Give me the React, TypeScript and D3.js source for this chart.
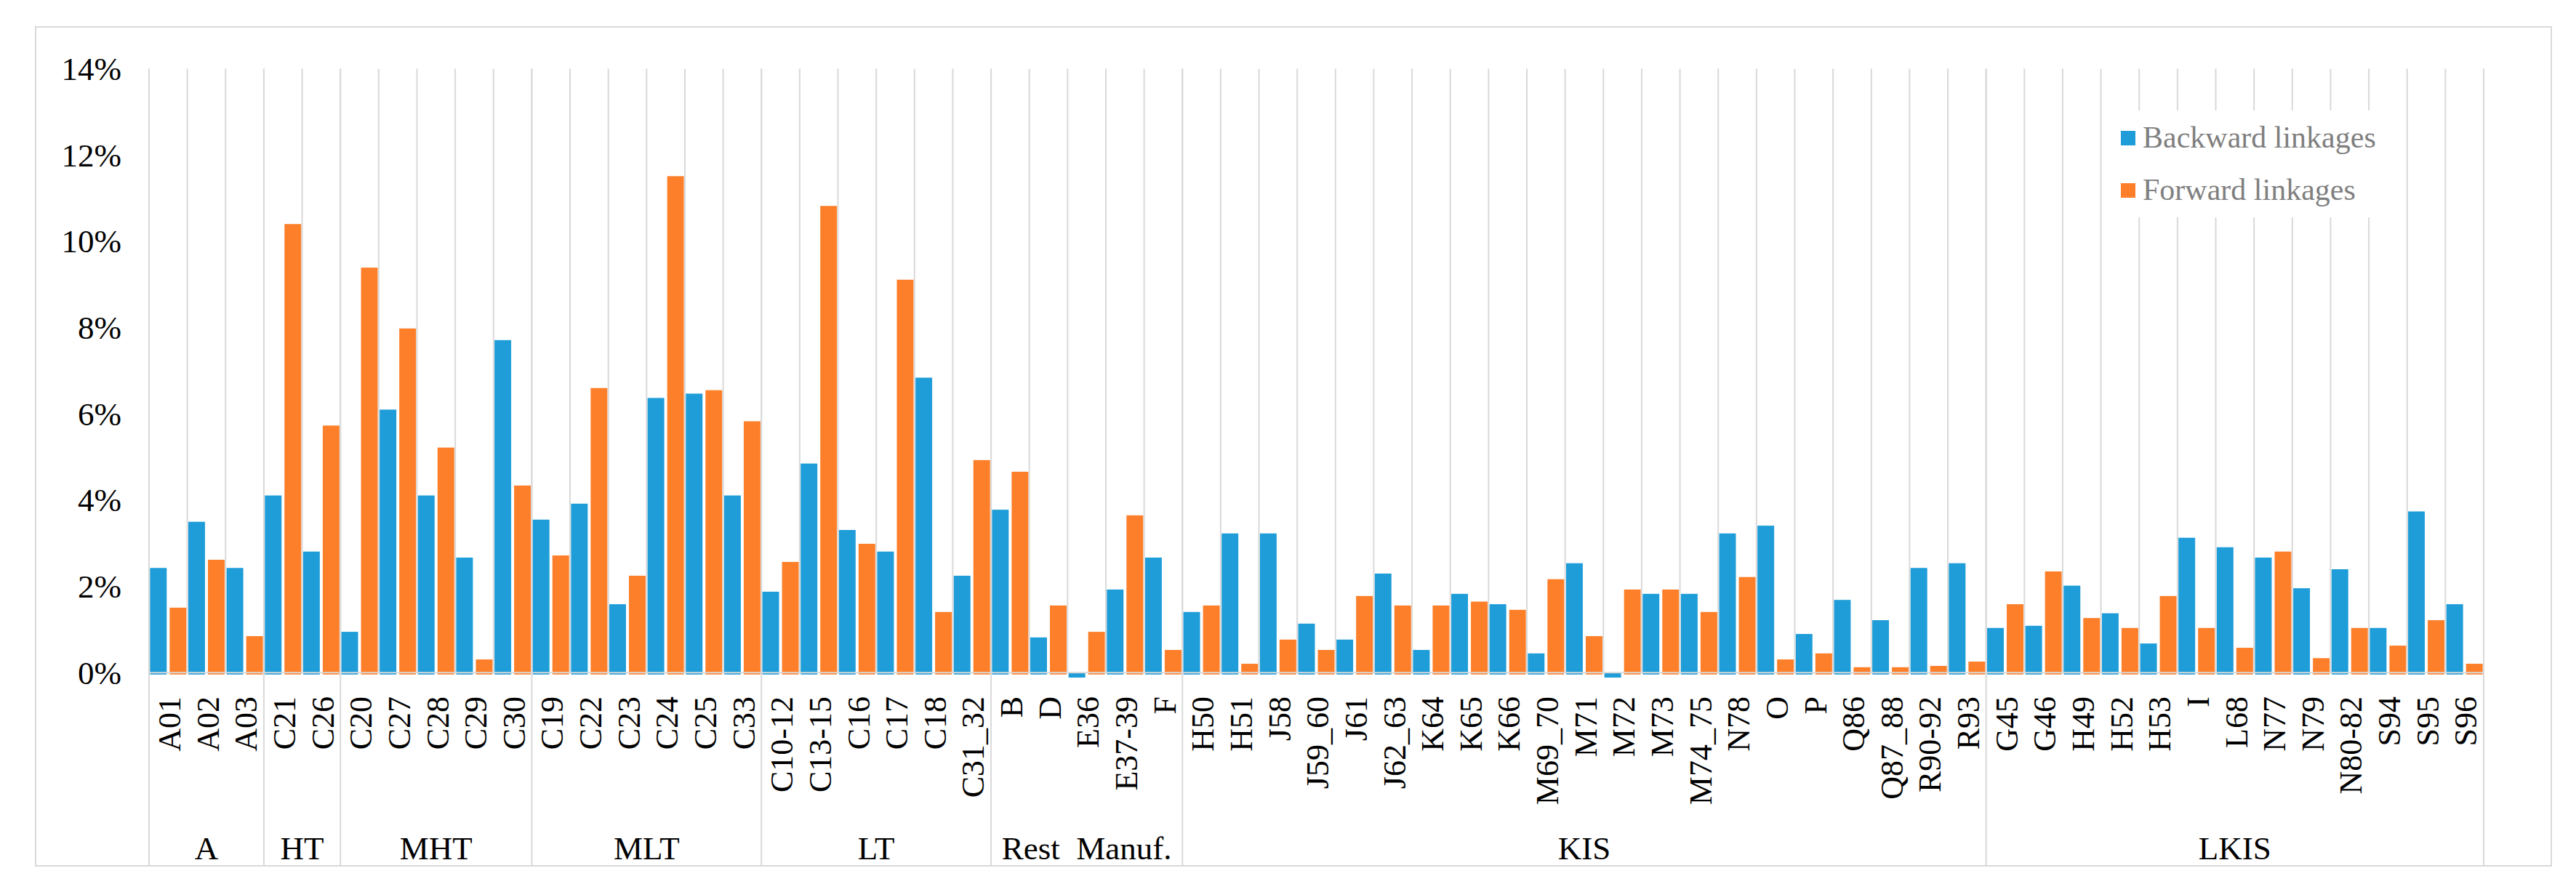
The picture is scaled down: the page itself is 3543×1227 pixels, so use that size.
import { useEffect, useRef } from "react";
import * as d3 from "d3";

// Secteurs (axe X, niveau 1)
const categories = [
  "A01", "A02", "A03",
  "C21", "C26",
  "C20", "C27", "C28", "C29", "C30",
  "C19", "C22", "C23", "C24", "C25", "C33",
  "C10-12", "C13-15", "C16", "C17", "C18", "C31_32",
  "B", "D", "E36", "E37-39", "F",
  "H50", "H51", "J58", "J59_60", "J61", "J62_63", "K64", "K65", "K66", "M69_70",
  "M71", "M72", "M73", "M74_75", "N78", "O", "P", "Q86", "Q87_88", "R90-92", "R93",
  "G45", "G46", "H49", "H52", "H53", "I", "L68", "N77", "N79", "N80-82", "S94", "S95", "S96",
];

// Groupes (axe X, niveau 2)
const groupNames = ["A", "HT", "MHT", "MLT", "LT", "Rest  Manuf.", "KIS", "LKIS"];
const groupSizes = [3, 2, 5, 6, 6, 5, 21, 13];

// Valeurs en %
const backward = [
  2.43, 3.5, 2.43,
  4.11, 2.81,
  0.95, 6.1, 4.11, 2.67, 7.71,
  3.55, 3.92, 1.59, 6.37, 6.47, 4.11,
  1.88, 4.85, 3.31, 2.81, 6.84, 2.25,
  3.78, 0.82, -0.11, 1.93, 2.67,
  1.41, 3.23, 3.23, 1.14, 0.77, 2.3, 0.53, 1.83, 1.59, 0.45,
  2.54, -0.11, 1.83, 1.83, 3.23, 3.41, 0.9, 1.69, 1.22, 2.43, 2.54,
  1.04, 1.09, 2.02, 1.38, 0.68, 3.13, 2.91, 2.67, 1.96, 2.4, 1.04, 3.74, 1.59,
];

const forward = [
  1.51, 2.62, 0.85,
  10.4, 5.73,
  9.39, 7.98, 5.22, 0.31, 4.34,
  2.72, 6.6, 2.25, 11.51, 6.55, 5.83,
  2.57, 10.82, 2.99, 9.11, 1.41, 4.93,
  4.66, 1.56, 0.95, 3.65, 0.53,
  1.56, 0.21, 0.77, 0.53, 1.78, 1.56, 1.56, 1.65, 1.46, 2.17,
  0.85, 1.93, 1.93, 1.41, 2.22, 0.31, 0.45, 0.13, 0.13, 0.16, 0.26,
  1.59, 2.35, 1.27, 1.04, 1.78, 1.04, 0.58, 2.81, 0.34, 1.04, 0.63, 1.22, 0.21,
];

const yTicks = [0, 2, 4, 6, 8, 10, 12, 14];
const seriesNames = ["Backward linkages", "Forward linkages"];

const WIDTH = 3543;
const HEIGHT = 1227;
const FONT = "'Liberation Serif', 'Times New Roman', serif";
const GRID = "#d9d9d9";
const COLORS = ["#1e9dd8", "#fe7f2a"];

export default function App() {
  const svgRef = useRef<SVGSVGElement>(null);

  useEffect(() => {
    if (!svgRef.current) return;
    const svg = d3.select(svgRef.current);
    svg.selectAll("*").remove();

    const plot = { left: 205, right: 3416, top: 94.5, bottom: 925.5 };
    const axisBottom = 1191;

    // cadre extérieur
    svg
      .append("rect")
      .attr("x", 49)
      .attr("y", 37)
      .attr("width", 3509 - 49)
      .attr("height", axisBottom - 37)
      .attr("fill", "white")
      .attr("stroke", GRID)
      .attr("stroke-width", 2);

    const x = d3.scaleBand().domain(categories).range([plot.left, plot.right]).padding(0);
    const xInner = d3
      .scaleBand()
      .domain(["b", "f"])
      .range([0, x.bandwidth()])
      .paddingInner(0.15)
      .paddingOuter(0.05);
    const y = d3.scaleLinear().domain([0, 14]).range([plot.bottom, plot.top]);

    // Grille verticale entre chaque catégorie
    const bounds = categories.map((c) => x(c) || 0).concat([plot.right]);
    svg
      .append("g")
      .selectAll("line")
      .data(bounds)
      .enter()
      .append("line")
      .attr("x1", (d) => d)
      .attr("x2", (d) => d)
      .attr("y1", plot.top)
      .attr("y2", plot.bottom)
      .attr("stroke", GRID)
      .attr("stroke-width", 2);

    // Séparateurs de groupes sous l'axe
    const groupStarts = groupSizes.map((_, i) => d3.sum(groupSizes.slice(0, i)));
    const groupBounds = groupStarts
      .map((s) => x(categories[s]) || 0)
      .concat([plot.right]);
    svg
      .append("g")
      .selectAll("line")
      .data(groupBounds)
      .enter()
      .append("line")
      .attr("x1", (d) => d)
      .attr("x2", (d) => d)
      .attr("y1", plot.top)
      .attr("y2", axisBottom)
      .attr("stroke", GRID)
      .attr("stroke-width", 2);

    // Barres
    const rows = categories.map((c, i) => ({ c, b: backward[i], f: forward[i] }));
    const series: ("b" | "f")[] = ["b", "f"];
    series.forEach((key, si) => {
      svg
        .append("g")
        .selectAll("rect")
        .data(rows)
        .enter()
        .append("rect")
        .attr("x", (d) => (x(d.c) || 0) + (xInner(key) || 0))
        .attr("width", xInner.bandwidth())
        .attr("y", (d) => (d[key] >= 0 ? y(d[key]) : y(0)))
        .attr("height", (d) =>
          d[key] >= 0 ? y(0) - y(d[key]) + 2.3 : y(d[key]) - y(0)
        )
        .attr("fill", COLORS[si]);
    });

    // Ligne de l'axe à 0
    svg
      .append("line")
      .attr("x1", plot.left)
      .attr("x2", plot.right)
      .attr("y1", y(0) - 0.2)
      .attr("y2", y(0) - 0.2)
      .attr("stroke", GRID)
      .attr("stroke-width", 2);

    // Axe Y
    svg
      .append("g")
      .selectAll("text")
      .data(yTicks)
      .enter()
      .append("text")
      .attr("x", 167)
      .attr("y", (d) => y(d))
      .attr("dy", "0.34em")
      .attr("text-anchor", "end")
      .style("font-family", FONT)
      .style("font-size", "45px")
      .style("fill", "#000")
      .text((d) => d3.format(".0%")(d / 100));

    // Etiquettes des catégories
    svg
      .append("g")
      .selectAll("text")
      .data(categories)
      .enter()
      .append("text")
      .attr(
        "transform",
        (d) => `translate(${(x(d) || 0) + x.bandwidth() / 2},958) rotate(-90)`
      )
      .attr("dy", "0.38em")
      .attr("text-anchor", "end")
      .style("font-family", FONT)
      .style("font-size", "44px")
      .style("fill", "#000")
      .text((d) => d);

    // Etiquettes des groupes
    svg
      .append("g")
      .selectAll("text")
      .data(groupNames)
      .enter()
      .append("text")
      .attr("x", (_, i) => (groupBounds[i] + groupBounds[i + 1]) / 2)
      .attr("y", 1182)
      .attr("text-anchor", "middle")
      .style("font-family", FONT)
      .style("font-size", "45px")
      .style("white-space", "pre")
      .style("fill", "#000")
      .text((d) => d);

    // Légende
    const legend = svg.append("g");
    legend
      .append("rect")
      .attr("x", 2892)
      .attr("y", 152)
      .attr("width", 412)
      .attr("height", 147)
      .attr("fill", "white");
    seriesNames.forEach((name, i) => {
      legend
        .append("rect")
        .attr("x", 2917)
        .attr("y", 180 + i * 72)
        .attr("width", 20)
        .attr("height", 20)
        .attr("fill", COLORS[i]);
      legend
        .append("text")
        .attr("x", 2947)
        .attr("y", 203 + i * 72)
        .style("font-family", FONT)
        .style("font-size", "42px")
        .style("fill", "#7f7f7f")
        .text(name);
    });
  }, []);

  return (
    <svg
      ref={svgRef}
      width={WIDTH}
      height={HEIGHT}
      style={{ position: "absolute", left: 0, top: 0, background: "white" }}
    />
  );
}
